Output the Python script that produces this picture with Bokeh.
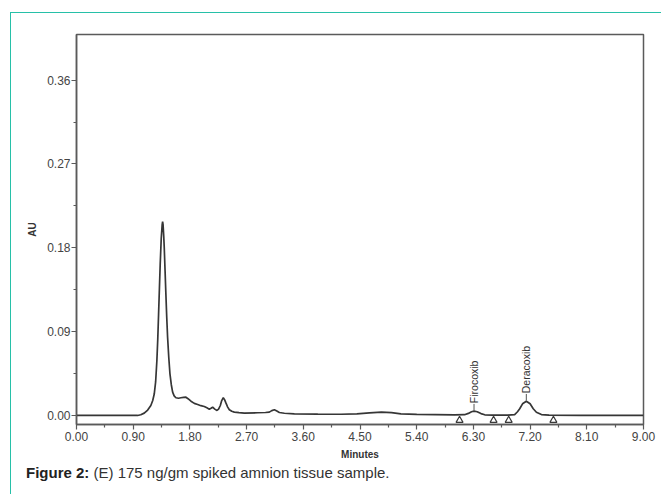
import math
from bokeh.plotting import figure
from bokeh.layouts import column
from bokeh.models import Range1d, FixedTicker, PrintfTickFormatter, Div
from bokeh.core.properties import value
from bokeh.embed import file_html
from bokeh.resources import INLINE

# ---- data ----
time_min = [0.00, 0.50, 0.90, 0.97, 1.02, 1.075, 1.13, 1.18, 1.21, 1.234, 1.256, 1.276, 1.29,
            1.303, 1.316, 1.329, 1.345, 1.360, 1.367, 1.374, 1.385, 1.393, 1.406, 1.419, 1.432,
            1.446, 1.465, 1.483, 1.505, 1.526, 1.55, 1.578, 1.62, 1.658, 1.70, 1.737, 1.77,
            1.817, 1.87, 1.923, 1.975, 2.028, 2.07, 2.108, 2.135, 2.161, 2.195, 2.230, 2.255,
            2.283, 2.305, 2.330, 2.35, 2.373, 2.40, 2.426, 2.465, 2.505, 2.58, 2.664, 2.876,
            3.00, 3.061, 3.10, 3.141, 3.18, 3.220, 3.30, 3.458, 3.830, 4.20, 4.45, 4.65, 4.84,
            5.00, 5.15, 5.40, 5.70, 6.00, 6.16, 6.22, 6.27, 6.31, 6.36, 6.42, 6.48, 6.60, 6.85,
            6.955, 7.00, 7.035, 7.08, 7.14, 7.20, 7.25, 7.30, 7.38, 7.50, 8.00, 9.00]
absorbance = [0.0, 0.0, 0.0, 0.0, 0.0008, 0.0025, 0.0058, 0.0107, 0.016, 0.023, 0.036, 0.059, 0.082,
              0.109, 0.136, 0.163, 0.190, 0.205, 0.208, 0.205, 0.192, 0.180, 0.155, 0.130, 0.106,
              0.084, 0.062, 0.045, 0.033, 0.025, 0.021, 0.019, 0.0185, 0.019, 0.0195, 0.0196, 0.018,
              0.0153, 0.013, 0.0118, 0.0105, 0.0096, 0.0082, 0.0068, 0.0078, 0.0089, 0.0068, 0.0054, 0.0068,
              0.0107, 0.016, 0.019, 0.017, 0.0132, 0.009, 0.0061, 0.0045, 0.0036, 0.003, 0.0025, 0.0029,
              0.0032, 0.0036, 0.0052, 0.0061, 0.0048, 0.0032, 0.0024, 0.0018, 0.0014, 0.0013, 0.0018, 0.0028, 0.0035,
              0.0030, 0.0018, 0.0012, 0.0009, 0.0006, 0.0008, 0.0022, 0.0040, 0.0046, 0.0040, 0.0020, 0.0007, 0.0004, 0.0004,
              0.0010, 0.0040, 0.0072, 0.0125, 0.0153, 0.0125, 0.0072, 0.0035, 0.0010, 0.0004, 0.0002, 0.0]

peak_names = ["Firocoxib", "Deracoxib"]
peak_times = [6.31, 7.14]
peak_heights = [0.0046, 0.0153]

boundary_times = [6.08, 6.62, 6.86, 7.57]

x_ticks = [0.0, 0.9, 1.8, 2.7, 3.6, 4.5, 5.4, 6.3, 7.2, 8.1, 9.0]
x_minor = [0.45, 1.35, 2.25, 3.15, 4.05, 4.95, 5.85, 6.75, 7.65, 8.55]
y_ticks = [0.0, 0.09, 0.18, 0.27, 0.36]
y_minor = [0.045, 0.135, 0.225, 0.315]

caption_bold = "Figure 2:"
caption_text = "(E) 175 ng/gm spiked amnion tissue sample."

FONT = "Liberation Sans"
AX = "#5a5a5a"
TEAL = "#27c0a8"

p = figure(width=650, height=451, output_backend="svg", toolbar_location=None,
           x_range=Range1d(0.0, 9.0), y_range=Range1d(-0.0097, 0.409),
           min_border_left=65, min_border_right=18, min_border_top=21, min_border_bottom=40,
           x_axis_label="Minutes", y_axis_label="AU")
p.background_fill_color = "white"
p.border_fill_color = "white"
p.grid.visible = False
p.outline_line_color = AX
p.outline_line_width = 1.5

for ax in (p.xaxis[0], p.yaxis[0]):
    ax.axis_line_color = AX
    ax.axis_line_width = 1.5
    ax.major_tick_line_color = AX
    ax.minor_tick_line_color = AX
    ax.major_tick_line_width = 1.2
    ax.minor_tick_line_width = 1.2
    ax.major_tick_in = 0
    ax.minor_tick_in = 0
    ax.major_tick_out = 5
    ax.minor_tick_out = 3
    ax.major_label_text_font = FONT
    ax.major_label_text_font_size = "12px"
    ax.major_label_text_color = "#444444"
    ax.axis_label_text_font = FONT
    ax.axis_label_text_font_style = "bold"
    ax.axis_label_text_color = "#333333"
    ax.formatter = PrintfTickFormatter(format="%.2f")

p.xaxis[0].ticker = FixedTicker(ticks=x_ticks, minor_ticks=x_minor)
p.yaxis[0].ticker = FixedTicker(ticks=y_ticks, minor_ticks=y_minor)
p.xaxis[0].major_label_standoff = 2
p.xaxis[0].axis_label_standoff = 5
p.xaxis[0].axis_label_text_font_size = "10px"
p.yaxis[0].major_label_standoff = 1
p.yaxis[0].axis_label_standoff = 6
p.yaxis[0].axis_label_text_font_size = "10px"

# chromatogram trace
p.line(time_min, absorbance, line_color="#363636", line_width=1.7)

# peak integration marks
p.scatter(boundary_times, [-0.0052] * len(boundary_times), marker="triangle", size=7,
          fill_color="white", line_color="#3a3a3a", line_width=1.2)

# peak labels with leader lines
p.segment(x0=peak_times, y0=[h + 0.0006 for h in peak_heights],
          x1=peak_times, y1=[h + 0.0078 for h in peak_heights],
          line_color="#555555", line_width=1)
p.text(x=peak_times, y=peak_heights, text=peak_names, angle=math.pi / 2,
       text_align="left", text_baseline="middle", y_offset=-8,
       text_font=value(FONT), text_font_size="10.5px", text_color="#333333")

caption = Div(text=f"<b style='color:#222222'>{caption_bold}</b> {caption_text}",
              width=640, height=30, margin=0,
              styles={"font-family": FONT, "font-size": "15px", "color": "#333333",
                      "padding-left": "15px", "line-height": "17px"})

layout = column(p, caption, spacing=0, margin=(12, 0, 0, 10),
                styles={"border-left": f"1.5px solid {TEAL}", "border-top": f"1.5px solid {TEAL}",
                        "background-color": "white"})

open("out.html", "w").write(file_html(layout, INLINE))
